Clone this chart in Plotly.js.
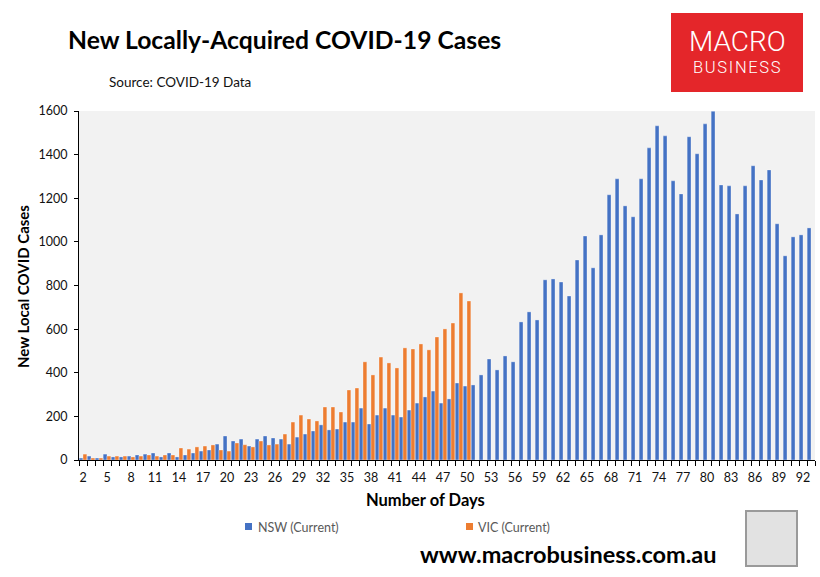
<!DOCTYPE html>
<html>
<head>
<meta charset="utf-8">
<script src="https://cdn.plot.ly/plotly-3.0.1.min.js"></script>
<style>
html,body{margin:0;padding:0;background:#fff;}
#chart{width:820px;height:577px;}
</style>
</head>
<body>
<div id="chart"></div>
<script>
// ---- data ----
const nswDays = [2,3,4,5,6,7,8,9,10,11,12,13,14,15,16,17,18,19,20,21,22,23,24,25,26,27,28,29,30,31,32,33,34,35,36,37,38,39,40,41,42,43,44,45,46,47,48,49,50,51,52,53,54,55,56,57,58,59,60,61,62,63,64,65,66,67,68,69,70,71,72,73,74,75,76,77,78,79,80,81,82,83,84,85,86,87,88,89,90,91,92,93];
const nswCases = [9,18,9,27,14,14,18,23,27,32,14,32,14,23,32,41,46,73,110,87,96,64,96,110,101,96,73,105,119,133,161,138,142,174,174,238,165,206,238,206,197,229,261,289,316,261,280,353,339,344,390,463,413,477,450,633,679,642,826,830,816,752,917,1027,881,1032,1216,1289,1165,1115,1289,1431,1532,1486,1280,1220,1482,1404,1541,1599,1261,1257,1128,1257,1349,1284,1330,1083,936,1023,1032,1064];
const vicDays = [2,3,4,5,6,7,8,9,10,11,12,13,14,15,16,17,18,19,20,21,22,23,24,25,26,27,28,29,30,31,32,33,34,35,36,37,38,39,40,41,42,43,44,45,46,47,48,49,50];
const vicCases = [27,9,9,18,18,18,14,18,23,18,23,23,55,50,60,64,69,46,41,78,70,60,87,69,73,119,174,206,188,179,243,243,220,321,330,450,390,472,445,422,514,509,532,505,564,601,628,766,729];
const xTickValues = [2,5,8,11,14,17,20,23,26,29,32,35,38,41,44,47,50,53,56,59,62,65,68,71,74,77,80,83,86,89,92];
const yTickValues = [0,200,400,600,800,1000,1200,1400,1600];
const seriesNames = ["NSW (Current)", "VIC (Current)"];
const seriesColors = ["#4472C4", "#ED7D31"];

// ---- pixel helpers for the 820x577 layout ----
const L = 79, R = 815, T = 111, B = 460;
const px = x => (x - L) / (R - L);
const py = y => (B - y) / (B - T);
const FONT = "Lato, 'Noto Sans', sans-serif";

const traces = [
  {type:"bar", name:seriesNames[0], x:nswDays, y:nswCases,
   marker:{color:seriesColors[0], line:{color:"rgba(255,255,255,0.55)", width:0.6}}, hoverinfo:"x+y"},
  {type:"bar", name:seriesNames[1], x:vicDays, y:vicCases,
   marker:{color:seriesColors[1], line:{color:"rgba(255,255,255,0.55)", width:0.6}}, hoverinfo:"x+y"}
];

const ann = [
  {text:"<b>New Locally-Acquired COVID-19 Cases</b>", x:px(66), y:py(40), xanchor:"left", yanchor:"middle",
   font:{family:FONT, size:24.7, color:"#000"}},
  {text:"Source: COVID-19 Data", x:px(107), y:py(82), xanchor:"left", yanchor:"middle",
   font:{family:FONT, size:13.5, color:"#111"}},
  {text:"<b>New Local COVID Cases</b>", x:px(23), y:py(287), xanchor:"center", yanchor:"middle", textangle:-90,
   font:{family:FONT, size:15, color:"#000"}},
  {text:"<b>Number of Days</b>", x:px(425), y:py(500), xanchor:"center", yanchor:"middle",
   font:{family:FONT, size:16.5, color:"#000"}},
  {text:seriesNames[0], x:px(256), y:py(527), xanchor:"left", yanchor:"middle",
   font:{family:FONT, size:12.5, color:"#595959"}},
  {text:seriesNames[1], x:px(476), y:py(527), xanchor:"left", yanchor:"middle",
   font:{family:FONT, size:12.5, color:"#595959"}},
  {text:"<b>www.macrobusiness.com.au</b>", x:px(568), y:py(554), xanchor:"center", yanchor:"middle",
   font:{family:FONT, size:23.5, color:"#000"}},
  {text:"MACRO", x:px(737), y:py(42), xanchor:"center", yanchor:"middle",
   font:{family:"Roboto, sans-serif", size:28, color:"#fff", weight:300}},
  {text:"B\u200AU\u200AS\u200AI\u200AN\u200AE\u200AS\u200AS", x:px(737), y:py(67), xanchor:"center", yanchor:"middle",
   font:{family:"Roboto, sans-serif", size:16.5, color:"#fff", weight:300}}
].map(a => Object.assign({xref:"paper", yref:"paper", showarrow:false}, a));

const shapes = [
  {type:"rect", x0:px(671), x1:px(803), y0:py(13), y1:py(92), fillcolor:"#E4262A", line:{width:0}},
  {type:"rect", x0:px(245), x1:px(252), y0:py(523), y1:py(530), fillcolor:seriesColors[0], line:{width:0}},
  {type:"rect", x0:px(466), x1:px(473), y0:py(523), y1:py(530), fillcolor:seriesColors[1], line:{width:0}},
  {type:"rect", x0:px(746), x1:px(797), y0:py(511), y1:py(566), fillcolor:"#e2e2e2", line:{color:"#9a9a9a", width:2}}
].map(s => Object.assign({xref:"paper", yref:"paper", layer:"above"}, s));

const layout = {
  width:820, height:577,
  margin:{l:L, r:820-R, t:T, b:577-B, pad:0},
  paper_bgcolor:"#fff", plot_bgcolor:"#F2F2F2",
  barmode:"group", bargap:0.04, bargroupgap:0,
  showlegend:false,
  font:{family:FONT, color:"#111"},
  xaxis:{type:"linear", range:[1.5, 93.5], tickvals:xTickValues, ticktext:xTickValues.map(String),
         ticks:"", showline:true, linecolor:"#000", linewidth:1, showgrid:false, zeroline:false,
         tickfont:{family:FONT, size:12.5, color:"#111"}, ticklabelstandoff:6,
         minor:{ticks:"outside", tick0:1.5, dtick:1, ticklen:5, tickwidth:1, tickcolor:"#000", showgrid:false}},
  yaxis:{range:[0,1600], tickvals:yTickValues, ticks:"outside", ticklen:4, tickcolor:"#000",
         showline:true, linecolor:"#000", linewidth:1, showgrid:false, zeroline:false,
         tickfont:{family:FONT, size:12.5, color:"#111"}, ticklabelstandoff:4},
  annotations:ann,
  shapes:shapes
};

Plotly.newPlot("chart", traces, layout, {displayModeBar:false, staticPlot:true});
</script>
</body>
</html>
